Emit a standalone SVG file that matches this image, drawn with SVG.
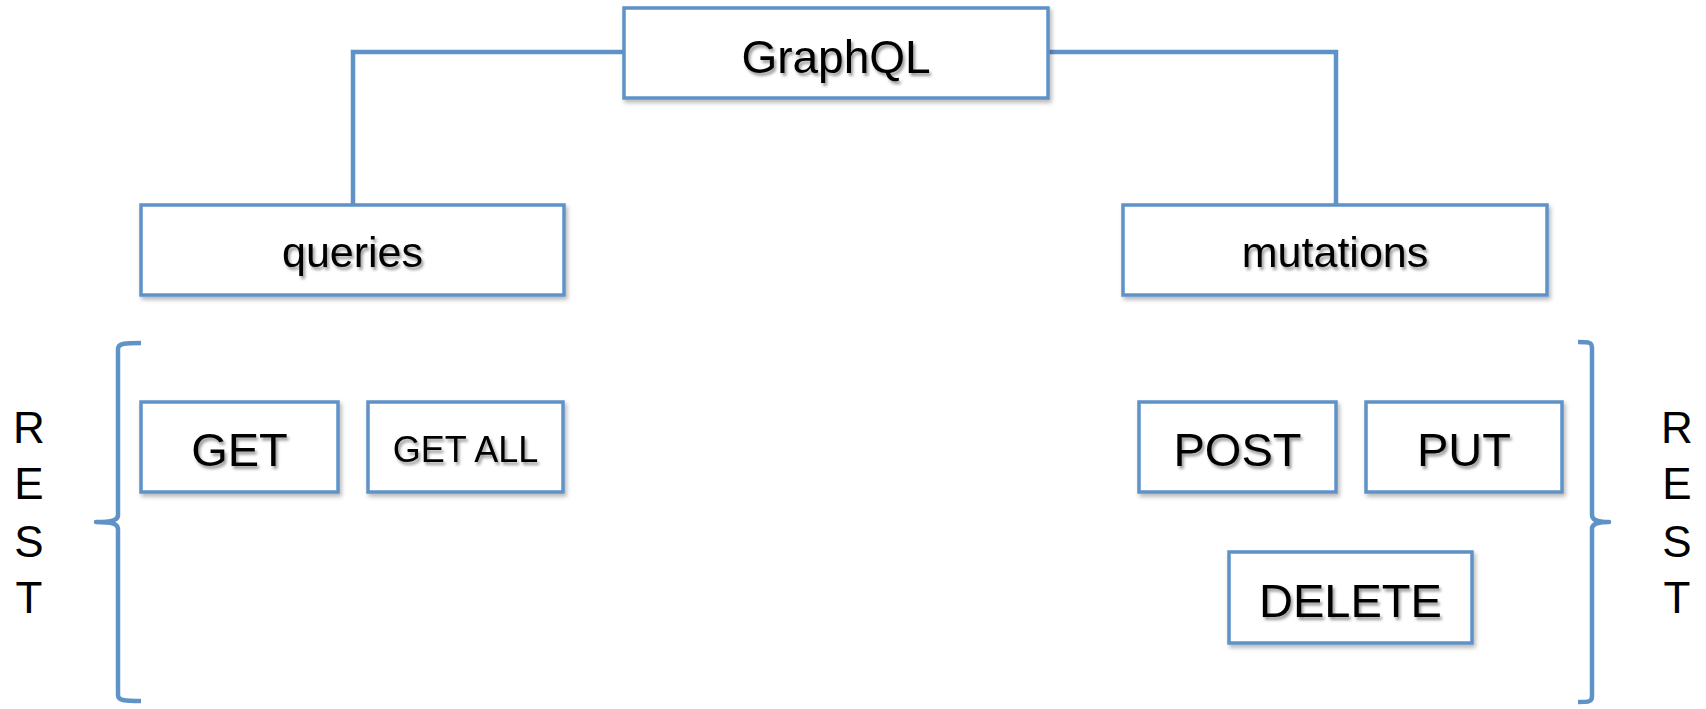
<svg xmlns="http://www.w3.org/2000/svg" width="1706" height="709" viewBox="0 0 1706 709">
  <defs>
    <filter id="boxShadow" x="-10%" y="-20%" width="120%" height="150%">
      <feDropShadow dx="2" dy="3" stdDeviation="2" flood-color="#000" flood-opacity="0.28"/>
    </filter>
    <filter id="textShadow" x="-10%" y="-20%" width="125%" height="150%">
      <feDropShadow dx="2" dy="3" stdDeviation="1.8" flood-color="#000" flood-opacity="0.4"/>
    </filter>
  </defs>
  <style>
    .box { fill: #ffffff; stroke: #5f93c8; stroke-width: 3.5; filter: url(#boxShadow); }
    .label { font-family: "Liberation Sans", Arial, sans-serif; fill: #000; text-anchor: middle; filter: url(#textShadow); }
    .wire { fill: none; stroke: #5f93c8; stroke-width: 4.5; }
    .brace { fill: none; stroke: #5f93c8; stroke-width: 4.5; stroke-linejoin: round; }
    .side { font-family: "Liberation Sans", Arial, sans-serif; font-size: 44px; fill: #000; text-anchor: middle; }
  </style>
  <rect width="1706" height="709" fill="#ffffff"/>

  <!-- tree connectors -->
  <g id="connectors">
    <path class="wire" d="M624,52 H353 V205"/>
    <path class="wire" d="M1048,52 H1336 V205"/>
  </g>

  <!-- REST braces -->
  <g id="braces">
    <path class="brace" d="M141,343 C126,343 118,343 118,349 L118,515 C118,520 113,522 96,522 C113,522 118,524 118,529 L118,695 C118,701 126,701 141,701"/>
    <path class="brace" d="M1578,342 C1589,342 1592,342 1592,348 L1592,515 C1592,520 1597,522 1609,522 C1597,522 1592,524 1592,529 L1592,696 C1592,702 1589,702 1578,702"/>
  </g>

  <g id="graphql">
    <rect class="box" x="624" y="8" width="424" height="90"/>
    <text class="label" x="836" y="73" font-size="46">GraphQL</text>
  </g>

  <g id="queries">
    <rect class="box" x="141" y="205" width="423" height="90"/>
    <text class="label" x="352.5" y="267" font-size="43">queries</text>
  </g>

  <g id="mutations">
    <rect class="box" x="1123" y="205" width="424" height="90"/>
    <text class="label" x="1335" y="267" font-size="43">mutations</text>
  </g>

  <g id="get">
    <rect class="box" x="141" y="402" width="197" height="90"/>
    <text class="label" x="239.5" y="466" font-size="47">GET</text>
  </g>

  <g id="get-all">
    <rect class="box" x="368" y="402" width="195" height="90"/>
    <text class="label" x="465.5" y="462" font-size="36">GET ALL</text>
  </g>

  <g id="post">
    <rect class="box" x="1139" y="402" width="197" height="90"/>
    <text class="label" x="1237.5" y="466" font-size="47">POST</text>
  </g>

  <g id="put">
    <rect class="box" x="1366" y="402" width="196" height="90"/>
    <text class="label" x="1464" y="466" font-size="47">PUT</text>
  </g>

  <g id="delete">
    <rect class="box" x="1229" y="552" width="243" height="91"/>
    <text class="label" x="1350.5" y="617" font-size="47">DELETE</text>
  </g>

  <!-- vertical REST labels -->
  <g id="rest-left">
    <text class="side" x="29" y="443">R</text>
    <text class="side" x="29" y="499">E</text>
    <text class="side" x="29" y="557">S</text>
    <text class="side" x="29" y="613">T</text>
  </g>
  <g id="rest-right">
    <text class="side" x="1677" y="443">R</text>
    <text class="side" x="1677" y="499">E</text>
    <text class="side" x="1677" y="557">S</text>
    <text class="side" x="1677" y="613">T</text>
  </g>
</svg>
